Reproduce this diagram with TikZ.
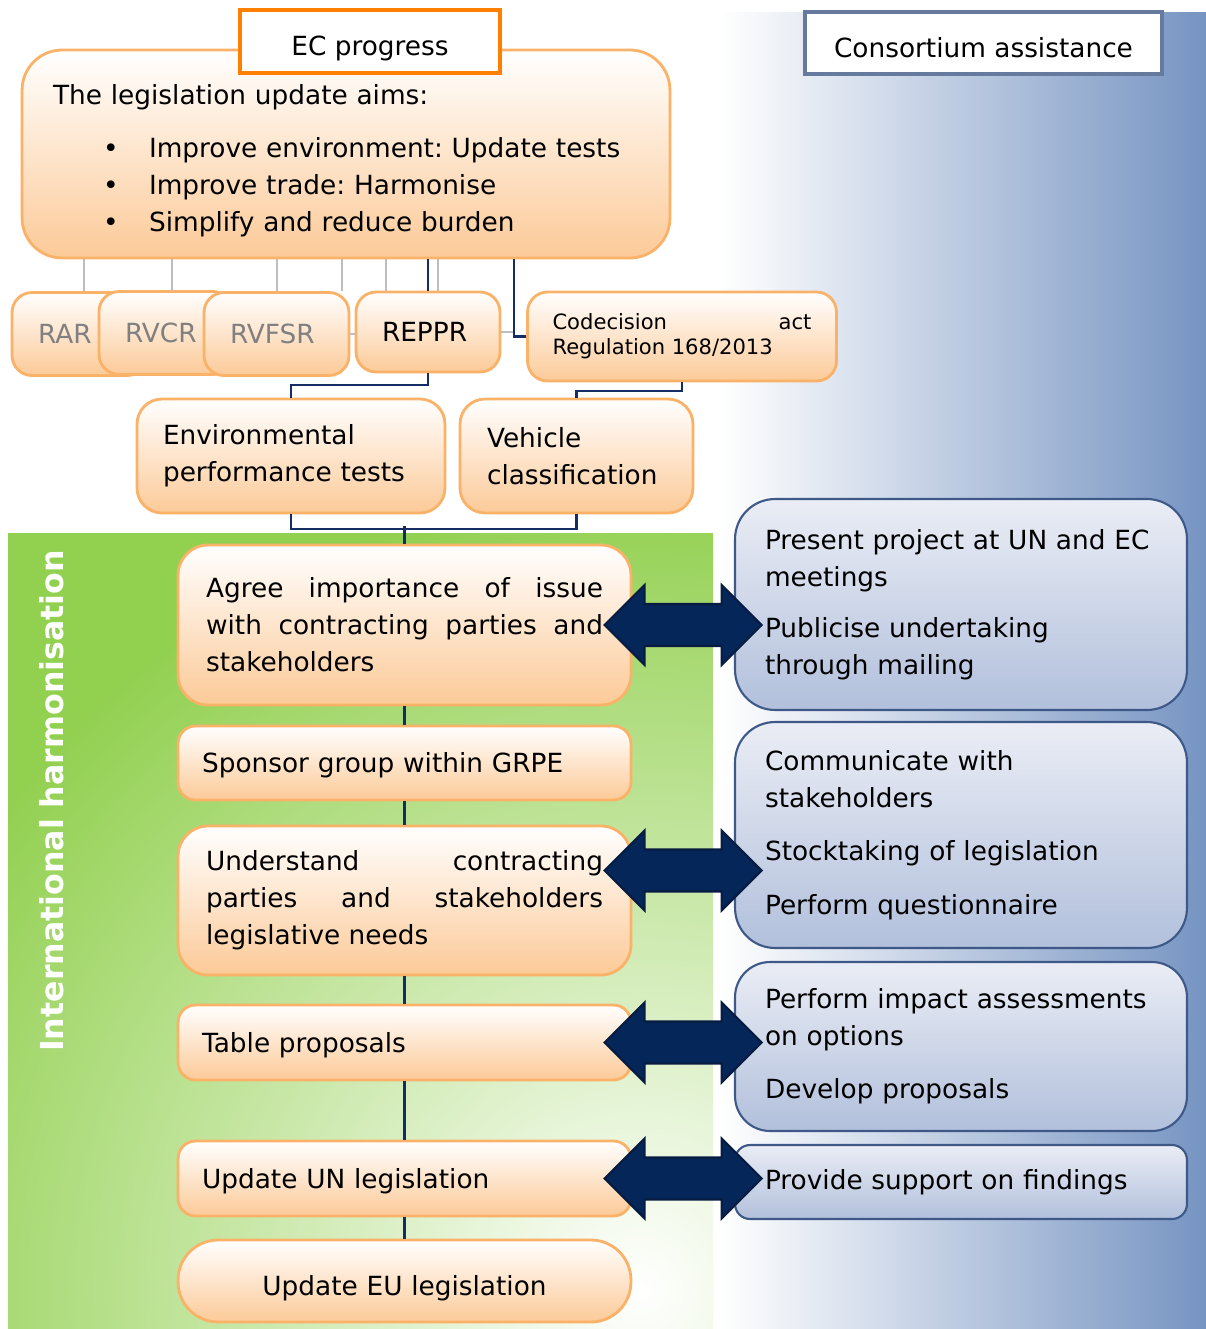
\documentclass[tikz,border=0pt]{standalone}
\usepackage{fontspec}
\setmainfont{DejaVu Sans}
\usepackage{tikz}
\usetikzlibrary{calc,positioning}

\hyphenpenalty=10000
\exhyphenpenalty=10000
\frenchspacing

\definecolor{oline}{RGB}{250,178,105}
\definecolor{obot}{RGB}{252,202,152}
\definecolor{ecorange}{RGB}{255,128,0}
\definecolor{btop}{RGB}{234,237,245}
\definecolor{bbot}{RGB}{178,192,220}
\definecolor{bline}{RGB}{62,88,135}
\definecolor{navyline}{RGB}{20,45,100}
\definecolor{arrowfill}{RGB}{5,38,88}
\definecolor{arrowline}{RGB}{8,28,66}
\definecolor{ghostgray}{RGB}{190,190,190}
\definecolor{labelgray}{RGB}{128,128,128}
\definecolor{harmgreen}{RGB}{146,208,80}
\definecolor{bgblue}{RGB}{118,148,194}
\definecolor{bgmid}{RGB}{170,187,216}
\definecolor{cframe}{RGB}{102,122,158}

\newcommand{\aimitem}[1]{\hspace*{1cm}\makebox[0.92cm][l]{\textbullet}#1}

\tikzset{
  every node/.style={font=\fontsize{15}{21}\selectfont},
  obox/.style={draw=oline, line width=1.6pt, top color=white, bottom color=obot,
    rounded corners=0.5cm, inner ysep=0pt, inner xsep=0.52cm, align=left},
  regbox/.style={obox, rounded corners=0.4cm, minimum height=1.66cm, text=labelgray},
  stepbox/.style={obox, rounded corners=0.35cm, text width=8.1cm, inner xsep=0.48cm, minimum height=1.5cm},
  oneline/.style={text height=13.5pt, text depth=2.3pt},
  helpbox/.style={draw=bline, line width=1.2pt, top color=btop, bottom color=bbot,
    rounded corners=0.8cm, text width=7.84cm, inner xsep=0.6cm, inner ysep=0pt, align=left},
  titlebox/.style={fill=white, line width=2.4pt, text height=19pt, text depth=2.5pt},
  harmtext/.style={rotate=90, text=white, font=\bfseries\fontsize{18}{21}\selectfont},
  treeline/.style={draw=navyline, line width=1.2pt},
  ghostline/.style={draw=ghostgray, line width=1pt},
  arrowbody/.style={fill=arrowfill, draw=arrowline, line width=1.2pt},
  pics/dblarrow/.style={code={
    \filldraw[arrowbody] (-78.5,0) -- (-38.5,-40) -- (-38.5,-21) -- (38.5,-21) -- (38.5,-40)
      -- (78.5,0) -- (38.5,40) -- (38.5,21) -- (-38.5,21) -- (-38.5,40) -- cycle;
  }}
}

\begin{document}
\begin{tikzpicture}[x=0.02cm, y=-0.02cm]
% backdrop
\fill[white] (0,0) rectangle (1206,1329);
\shade[left color=white, middle color=bgmid, right color=bgblue] (720,12) rectangle (1206,1329);
\fill[harmgreen] (8,533) rectangle (713,1329);
\begin{scope}
  \clip (8,533) rectangle (713,1329);
  \shade[inner color=white, outer color=harmgreen] (640,1290) circle[radius=16cm];
\end{scope}
\node[harmtext] (harm) at (52,801) {International harmonisation};

% EC side
\node[obox, rounded corners=0.8cm, text width=11.72cm, inner xsep=0.62cm, minimum height=4.16cm] (aims) at (346,154)
  {\rule{0pt}{19pt}The legislation update aims:\\[9pt]
   \aimitem{Improve environment: Update tests}\\
   \aimitem{Improve trade: Harmonise}\\
   \aimitem{Simplify and reduce burden}};

\node[regbox, text width=1.66cm] (rar) at (79.5,334) {RAR};
\node[regbox, text width=1.64cm] (rvcr) at (166,333) {RVCR};
\node[regbox, text width=1.86cm] (rvfsr) at (276.5,334) {RVFSR};
\node[regbox, text width=1.84cm, minimum height=1.6cm, text=black] (reppr) at (428,332) {REPPR};
\node[obox, rounded corners=0.4cm, text width=5.18cm, inner xsep=0.5cm, minimum height=1.78cm, align=justify,
  font=\fontsize{12}{14.2}\selectfont] (codec) at (682,336.5) {Codecision act Regulation 168/2013};

\node[obox, text width=5.12cm, minimum height=2.28cm] (envtest) at (291,456) {Environmental\\performance tests};
\node[obox, text width=3.58cm, inner xsep=0.54cm, minimum height=2.28cm] (vehicle) at (576.5,456) {Vehicle\\classification};

% harmonisation steps
\node[stepbox, rounded corners=0.6cm, text width=7.94cm, inner xsep=0.56cm, minimum height=3.2cm, align=justify] (agree) at (404.5,625)
  {Agree importance of issue with contracting parties and stakeholders};
\node[stepbox, oneline, minimum height=1.48cm] (sponsor) at (404.5,763) {Sponsor group within GRPE};
\node[stepbox, rounded corners=0.6cm, text width=7.94cm, inner xsep=0.56cm, minimum height=2.98cm, align=justify] (needs) at (404.5,900.5)
  {Understand contracting parties and stakeholders legislative needs};
\node[stepbox, oneline] (tabled) at (404.5,1042.5) {Table proposals};
\node[stepbox, oneline] (unleg) at (404.5,1178.5) {Update UN legislation};
\node[stepbox, rounded corners=0.8cm, minimum height=1.64cm, align=center, text height=17pt, text depth=1pt] (euleg) at (404.5,1281) {Update EU legislation};

% consortium side
\node[helpbox, minimum height=4.22cm] (present) at (961,604.5)
  {Present project at UN and EC\\meetings\\[0.28cm]Publicise undertaking\\through mailing};
\node[helpbox, minimum height=4.52cm] (stock) at (961,835)
  {Communicate with\\stakeholders\\[0.32cm]Stocktaking of legislation\\[0.34cm]Perform questionnaire};
\node[helpbox, minimum height=3.38cm, rounded corners=0.7cm] (impact) at (961,1046.5)
  {Perform impact assessments\\on options\\[0.32cm]Develop proposals};
\node[helpbox, minimum height=1.48cm, rounded corners=0.3cm] (support) at (961,1182) {Provide support on findings};

% connectors
\foreach \gx in {84,172,277,342,386,438}
  \draw[ghostline] (aims.south -| \gx,0) -- (rar.north -| \gx,0);
\coordinate (aimsdrop) at (aims.south -| 514,0);
\draw[ghostline] (rvfsr.east) -- (rvfsr.east -| reppr.west);
\draw[ghostline] (reppr.east) -- (reppr.east -| aimsdrop);
\draw[treeline] (reppr.north) -- (reppr.north |- aims.south);
\draw[treeline] (aimsdrop) |- (codec.west);
\draw[treeline] (reppr.south) -- ++(0,12) -| (envtest.north);
\draw[treeline] (codec.south) -- ++(0,9) -| (vehicle.north);
\draw[treeline] (envtest.south) -- ++(0,15) -| (vehicle.south);
\draw[treeline] (agree.north) -- ++(0,-18);
\foreach \a/\b in {agree/sponsor, sponsor/needs, needs/tabled, tabled/unleg, unleg/euleg}
  \draw[treeline] (\a.south) -- (\b.north);

% exchange arrows
\pic at ($(agree.east)!.5!(present.west |- agree.east)$) {dblarrow};
\pic at ($(needs.east)!.5!(stock.west |- needs.east) + (0,-30)$) {dblarrow};
\pic at ($(tabled.east)!.5!(impact.west |- tabled.east)$) {dblarrow};
\pic at ($(unleg.east)!.5!(support.west |- unleg.east)$) {dblarrow};

% headings
\node[titlebox, draw=ecorange, minimum width=5.2cm, minimum height=1.26cm] (ecprog) at (370,41.5) {EC progress};
\node[titlebox, draw=cframe, minimum width=7.14cm, minimum height=1.24cm] (consort) at (983.5,43) {Consortium assistance};
\end{tikzpicture}
\end{document}
